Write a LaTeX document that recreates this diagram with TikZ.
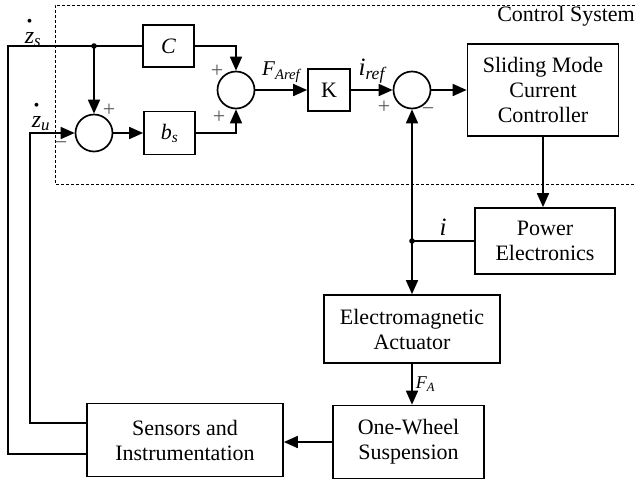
\documentclass[tikz,border=0pt]{standalone}
\usepackage{fontspec}
\setmainfont{Liberation Serif}
\usepackage{tikz}
\usetikzlibrary{arrows.meta, positioning}
\tikzstyle{block} = [rectangle, draw=black, line width=1.7pt, align=center, inner sep=0pt, font=\fontsize{22}{25}\selectfont]
\tikzstyle{sumpt} = [circle, draw=black, line width=1.7pt, minimum size=37pt, inner sep=0pt]
\tikzstyle{arrow} = [line width=1.7pt, -{Triangle[length=14pt,width=12pt]}]
\tikzstyle{wire} = [line width=1.7pt]
\tikzstyle{sgn} = [font=\fontsize{22}{22}\selectfont, text=black!65, inner sep=0pt]
\tikzstyle{lbl} = [font=\fontsize{21}{24}\selectfont\itshape, inner sep=0pt]
\newcommand{\dotz}{\ooalign{z\cr\hidewidth\raisebox{17pt}{\fontsize{16}{16}\selectfont\textbullet}\hidewidth\cr}}

\begin{document}
\begin{tikzpicture}[x=1pt,y=1pt]
\useasboundingbox (0,0) rectangle (636,-480);
% Control system frame
\draw[line width=0.7pt, dash pattern=on 3pt off 2pt] (640,-5) -- (55,-5) -- (55,-184) -- (640,-184);
\node[anchor=north east, font=\fontsize{22}{25}\selectfont, inner sep=0pt] (ctrl) at (635,-6) {Control System};

% Blocks
\node[block, minimum width=51pt, minimum height=42pt] (C) at (168.5,-46) {\itshape C};
\node[block, minimum width=51pt, minimum height=43pt] (bs) at (169.5,-133) {\textit{b}\textsubscript{\textit{s}}};
\node[block, minimum width=42pt, minimum height=42pt] (K) at (329,-90) {K};
\node[block, minimum width=151pt, minimum height=92pt] (smc) at (543,-90) {Sliding Mode\\Current\\Controller};
\node[block, minimum width=140pt, minimum height=66pt] (pe) at (545,-241) {Power\\Electronics};
\node[block, minimum width=176pt, minimum height=68pt] (ema) at (412,-329) {Electromagnetic\\Actuator};
\node[block, minimum width=151pt, minimum height=73pt] (ows) at (408.5,-442) {One-Wheel\\Suspension};
\node[block, minimum width=196pt, minimum height=73pt] (sens) at (185,-440) {Sensors and\\Instrumentation};

% Summing junctions
\node[sumpt] (sum0) at (94,-133) {};
\node[sumpt] (sum1) at (236,-90) {};
\node[sumpt] (sum2) at (412,-90) {};

% Signs
\node[sgn] (s0a) at ([shift={(15,23)}]sum0.center) {+};
\node[sgn] (s0b) at ([shift={(-33,-13)}]sum0.center) {−};
\node[sgn] (s1a) at ([shift={(-19,19)}]sum1.center) {+};
\node[sgn] (s1b) at ([shift={(-17,-27)}]sum1.center) {+};
\node[sgn] (s2a) at ([shift={(-28,-17)}]sum2.center) {+};
\node[sgn] (s2b) at ([shift={(16,-22)}]sum2.center) {−};

% Signals
\node[lbl, font=\fontsize{24}{24}\selectfont\itshape, anchor=base] (zs) at (33,-43) {\dotz\textsubscript{s}};
\node[lbl, font=\fontsize{24}{24}\selectfont\itshape, anchor=base] (zu) at (41,-127) {\dotz\textsubscript{u}};

% Feedback lines
\coordinate (js) at (sum0.north |- C.west);
\draw[wire] ([yshift=-14pt]sens.west) -- ++(-78,0) |- (C.west);
\fill (js) circle (2.8pt);
\draw[arrow] (js) -- (sum0.north);
\draw[arrow] ([yshift=17pt]sens.west) -- ++(-56.5,0) |- (sum0.west);

% Forward path
\draw[arrow] (sum0.east) -- (bs.west);
\draw[arrow] (C.east) -| (sum1.north);
\draw[arrow] (bs.east) -| (sum1.south);
\draw[arrow] (sum1.east) -- node[lbl, above=7pt] {F\textsubscript{Aref}} (K.west);
\draw[arrow] (K.east) -- node[lbl, above=6pt, font=\fontsize{25}{25}\selectfont\itshape] {i\textsubscript{ref}} (sum2.west);
\draw[arrow] (sum2.east) -- (smc.west);
\draw[arrow] (smc.south) -- (smc.south |- pe.north);

% Current loop
\coordinate (ji) at (sum2.south |- pe.west);
\draw[wire] (pe.west) -- node[lbl, above=5pt, font=\fontsize{25}{25}\selectfont\itshape] {i} (ji);
\fill (ji) circle (2.8pt);
\draw[arrow] (ji) -- (sum2.south);
\draw[arrow] (ji) -- (ema.north);
\draw[arrow] (ema.south) -- node[lbl, right=3pt, font=\fontsize{18}{18}\selectfont\itshape] {F\textsubscript{A}} (ema.south |- ows.north);
\draw[arrow] (ows.west) -- (ows.west -| sens.east);
\end{tikzpicture}
\end{document}
